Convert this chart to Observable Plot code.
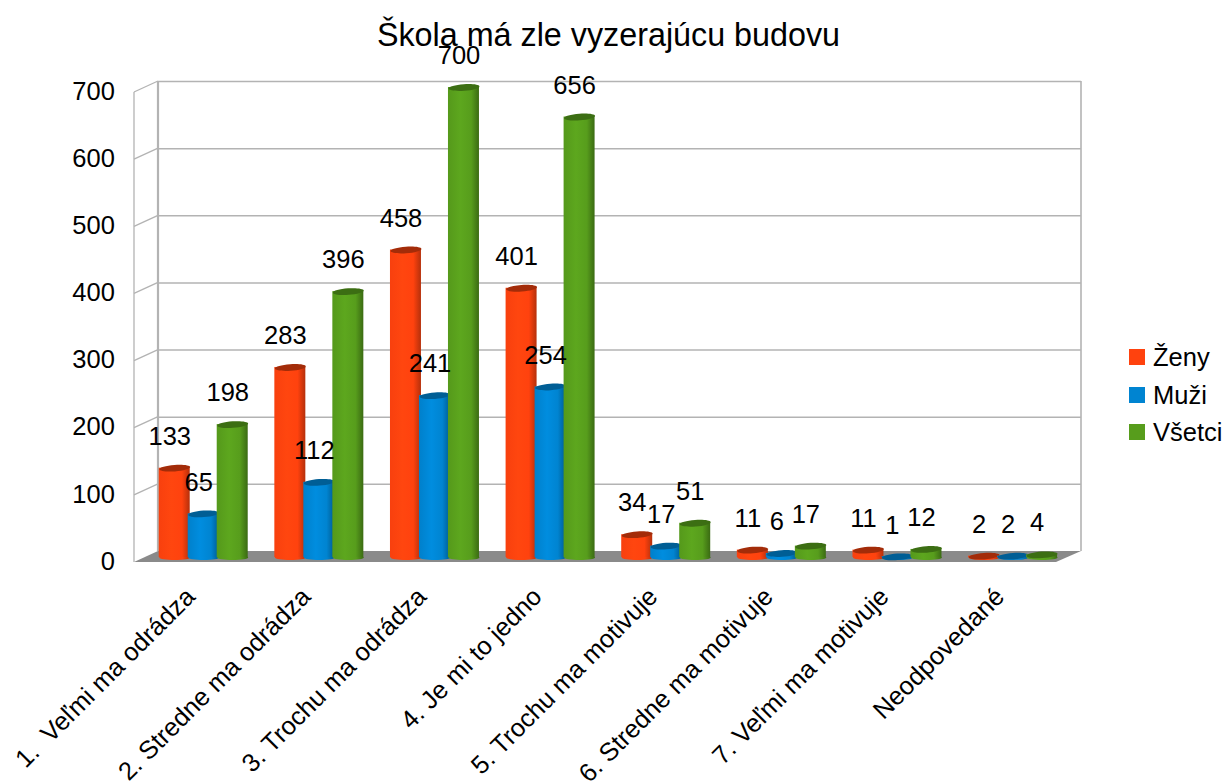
<!DOCTYPE html>
<html lang="sk">
<head>
<meta charset="utf-8">
<script src="https://cdn.jsdelivr.net/npm/d3@7"></script>
<script src="https://cdn.jsdelivr.net/npm/@observablehq/plot@0.6"></script>
<style>
html,body{margin:0;padding:0;background:#fff;font-family:"Liberation Sans",Arial,sans-serif;color:#000}
#wrap{position:relative;width:1227px;height:783px;overflow:hidden}
#title{position:absolute;left:0;top:15px;width:1217px;text-align:center;font-size:32.3px;line-height:40px;font-weight:normal;margin:0;z-index:2}
.lg{position:absolute;left:1129px;font-size:25.5px;line-height:30px;height:30px;white-space:nowrap}
.lg i{position:absolute;left:0;top:7px;width:16px;height:16px}
.lg span{position:absolute;left:24px;top:0}
</style>
</head>
<body>
<div id="wrap">
<h1 id="title">Škola má zle vyzerajúcu budovu</h1>
<div id="chart"></div>
<div id="legend"></div>
</div>
<script>
const categories = ["1.  Veľmi ma odrádza","2. Stredne ma odrádza","3. Trochu ma odrádza","4. Je mi to jedno","5. Trochu ma motivuje","6. Stredne ma motivuje","7. Veľmi ma motivuje","Neodpovedané"];
const zeny   = [133,283,458,401,34,11,11,2];
const muzi   = [65,112,241,254,17,6,1,2];
const vsetci = [198,396,700,656,51,17,12,4];
const seriesNames = ["Ženy","Muži","Všetci"];
const seriesColors = ["#ff420e","#0084d1","#579d1c"];
const seriesDark = ["#a32c09","#005e95","#3c6e13"];
const seriesEdge = ["#b5300b","#005c92","#3b6b13"];
const yTicks = [0,100,200,300,400,500,600,700];

const seriesValues = [zeny,muzi,vsetci];
const ids = ["gz","gm","gv"];
const offsets = [-29,0,29];

// flattened, slightly tilted ellipse used as the cylinder cap
function ellipseSymbol(w,h,tilt){
  return {draw(ctx){
    const k=0.5523, c=Math.cos(tilt), s=Math.sin(tilt);
    const p=(x,y)=>[x*c-y*s,x*s+y*c];
    const a=w/2,b=h/2;
    const seq=[[[a,k*b],[k*a,b],[0,b]],[[-k*a,b],[-a,k*b],[-a,0]],[[-a,-k*b],[-k*a,-b],[0,-b]],[[k*a,-b],[a,-k*b],[a,0]]];
    ctx.moveTo(...p(a,0));
    for(const q of seq) ctx.bezierCurveTo(...p(...q[0]),...p(...q[1]),...p(...q[2]));
    ctx.closePath();
  }};
}
const capSymbol = ellipseSymbol(31,6.5,-0.07);
const baseSymbol = ellipseSymbol(31,5,0);

const defsMark = () => {
  const defs = d3.create("svg:defs");
  ids.forEach((id,i)=>{
    const mid = d3.color(seriesColors[i]).brighter(0.18).formatHex();
    const g = defs.append("linearGradient").attr("id",id).attr("x1","0").attr("x2","1").attr("y1","0").attr("y2","0");
    g.append("stop").attr("offset","0").attr("stop-color",d3.color(seriesColors[i]).darker(0.08));
    g.append("stop").attr("offset","0.4").attr("stop-color",mid);
    g.append("stop").attr("offset","0.75").attr("stop-color",seriesColors[i]);
    g.append("stop").attr("offset","1").attr("stop-color",seriesEdge[i]);
  });
  return defs.node();
};

// floor and left side wall of the 3D box, tied to the y scale
const depthLeft = 12.6, depthFront = 5, depthBack = 6;
const wallMark = (index,{y},values,{marginLeft,width,marginRight}) => {
  const g = d3.create("svg:g");
  const x0 = marginLeft - 11.4, x1 = marginLeft + depthLeft, x2 = width - marginRight + 10.6, x3 = x2 - 25;
  g.append("path").attr("fill","#8a8a8a")
    .attr("d",`M${x0},${y(0)+depthFront}L${x1},${y(0)-depthBack}L${x2},${y(0)-depthBack}L${x3},${y(0)+depthFront}Z`);
  const stroke = (sel,w)=>sel.attr("stroke","#b3b3b3").attr("stroke-width",w).attr("fill","none");
  for(const t of yTicks.slice(1)){
    stroke(g.append("line"),1.3).attr("x1",x0).attr("y1",y(t)+depthFront).attr("x2",x1).attr("y2",y(t)-depthBack);
  }
  stroke(g.append("line"),1.3).attr("x1",x0).attr("y1",y(0)+depthFront).attr("x2",x0).attr("y2",y(700)+depthFront);
  stroke(g.append("line"),2.2).attr("x1",x1).attr("y1",y(0)-depthBack).attr("x2",x1).attr("y2",y(700)-depthBack);
  stroke(g.append("line"),1.6).attr("x1",x2).attr("y1",y(0)-depthBack).attr("x2",x2).attr("y2",y(700)-depthBack);
  return g.node();
};

const barMarks = seriesValues.flatMap((vals,i)=>{
  const rows = categories.map((c,j)=>({c,v:vals[j]}));
  const dx = offsets[i];
  return [
    Plot.dot(rows,{x:"c",y:()=>0,dx,dy:0,r:10,symbol:baseSymbol,fill:`url(#${ids[i]})`,stroke:"none"}),
    Plot.barY(rows,{x:"c",y:"v",dx,fill:`url(#${ids[i]})`,title:d=>`${seriesNames[i]}: ${d.v}`}),
    Plot.dot(rows,{x:"c",y:"v",dx,r:10,symbol:capSymbol,fill:seriesDark[i],stroke:"none"})
  ];
});
const labelMarks = seriesValues.map((vals,i)=>{
  const rows = categories.map((c,j)=>({c,v:vals[j]}));
  return Plot.text(rows,{x:"c",y:"v",text:d=>String(d.v),dx:offsets[i]-5,dy:-31.5,fontSize:25.5,fill:"#000"});
});

const chart = Plot.plot({
  width:1227, height:783,
  marginLeft:145.4, marginRight:156.6, marginTop:87, marginBottom:226,
  style:{fontFamily:"'Liberation Sans',Arial,sans-serif",background:"transparent",color:"#000"},
  x:{type:"band",domain:categories,paddingInner:0.732,paddingOuter:0.366,round:false,label:null},
  y:{domain:[0,700],label:null},
  marks:[
    defsMark,
    Plot.ruleY(yTicks.slice(1),{y:d=>d,dy:-6,insetLeft:12.6,insetRight:-10.6,stroke:"#b3b3b3",strokeWidth:1.5}),
    wallMark,
    ...barMarks,
    ...labelMarks,
    Plot.axisY({ticks:yTicks,tickSize:0,tickPadding:31,dy:4,fontSize:25.5,label:null}),
    Plot.axisX({tickSize:0,tickRotate:-45,tickPadding:30,dx:-13,dy:5,fontSize:25.5,label:null})
  ]
});
document.getElementById("chart").appendChild(chart);

const legend = document.getElementById("legend");
seriesNames.forEach((name,i)=>{
  const el=document.createElement("div");
  el.className="lg";
  el.style.top=(342+i*37.5)+"px";
  el.innerHTML=`<i style="background:${seriesColors[i]}"></i><span>${name}</span>`;
  legend.appendChild(el);
});
</script>
</body>
</html>
